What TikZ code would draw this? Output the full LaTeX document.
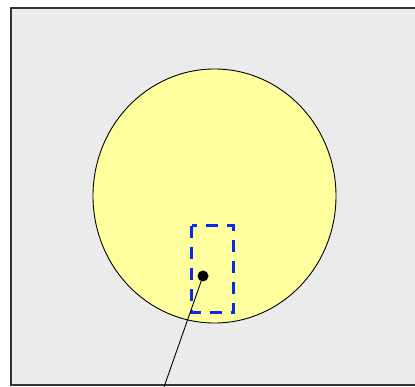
\documentclass[tikz,border=0pt]{standalone}
\definecolor{bggray}{HTML}{EBEBEB}
\definecolor{paleyellow}{HTML}{FFFF9E}
\definecolor{dashblue}{HTML}{0A28F0}
\tikzset{
  framebox/.style={draw=black!80, line width=2pt, fill=bggray},
  disc/.style={draw=black, line width=0.9pt, fill=paleyellow},
  selbox/.style={draw=dashblue, line width=3pt, dash pattern=on 12pt off 9pt},
  pin/.style={draw=black, line width=0.9pt}
}
\begin{document}
\begin{tikzpicture}[x=1pt,y=-1pt]
\useasboundingbox (0,0) rectangle (415,387);
\draw[framebox] (11,8) rectangle (425,385);
\draw[disc] (214.5,196) ellipse [x radius=121.5, y radius=127];
\draw[selbox] (191.5,226) rectangle (233,313);
\coordinate (tip) at (164,387);
\node[circle, fill=black, inner sep=0pt, minimum size=11pt] (dot) at (203,276) {};
\draw[pin] (dot.center) -- (tip);
\end{tikzpicture}
\end{document}
